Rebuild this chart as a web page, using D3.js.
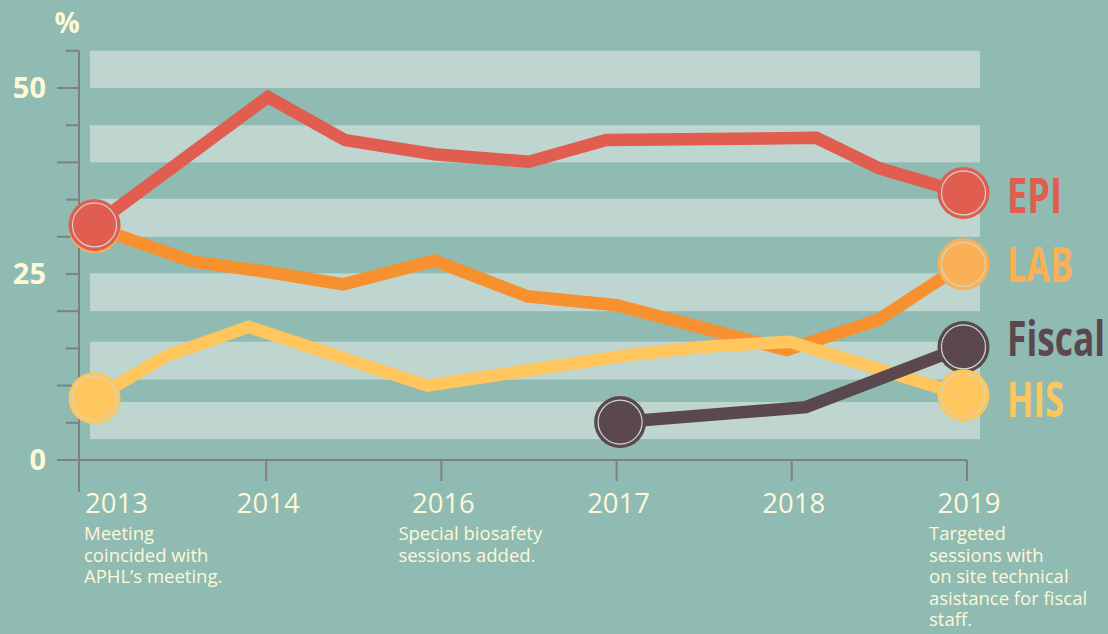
<html>
<head>
  <title>Participation by track</title>
  <script src="https://d3js.org/d3.v7.min.js"></script>
  <style>
    body { margin: 0; background: #8fbbb2; }
    text { font-family: "Open Sans", sans-serif; }
  </style>
</head>
<body>
  <svg id="plot" width="1108" height="634"></svg>
  <script>

  // years on the x axis (position index 0..5)
  const years = ["2013", "2014", "2016", "2017", "2018", "2019"];
  const notes = [
    ["Meeting", "coincided with", "APHL\u2019s meeting."],
    [],
    ["Special biosafety", "sessions added."],
    [],
    [],
    ["Targeted", "sessions with", "on site technical", "asistance for fiscal", "staff."]
  ];

  // series: x = year index (with in-between bends), v = percent
  const epiX = [0.02, 1.01, 1.45, 1.96, 2.5, 2.94, 4.14, 4.5, 4.98];
  const epiV = [31.6, 48.8, 43.0, 41.1, 40.1, 43.0, 43.3, 39.2, 35.9];
  const labX = [0.02, 0.58, 1.0, 1.44, 1.96, 2.49, 3.0, 3.97, 4.49, 4.98];
  const labV = [31.3, 26.7, 25.3, 23.6, 26.8, 22.0, 20.8, 14.8, 18.8, 26.3];
  const hisX = [0.02, 0.43, 0.9, 1.92, 3.07, 3.49, 3.99, 4.98];
  const hisV = [8.3, 14.0, 17.9, 10.0, 14.1, 15.2, 15.9, 8.7];
  const fisX = [3.02, 4.08, 4.98];
  const fisV = [5.1, 7.1, 15.2];

  // light horizontal bands, [from, to] in percent
  const bands = [[50, 55], [40, 45], [30, 35.1], [20, 25.1], [10.8, 15.9], [2.8, 7.8]];
  const yTicks = [0, 5, 10, 15, 20, 25, 30, 35, 40, 45, 50, 55];
  const yLabels = [0, 25, 50];

  const series = [
    { name: "LAB", x: labX, v: labV, line: "#f7912f", dot: "#fbb055", labelAt: 23.9, len: 66 },
    { name: "HIS", x: hisX, v: hisV, line: "#fec65c", dot: "#fec65c", labelAt: 5.8, len: 57 },
    { name: "Fiscal", x: fisX, v: fisV, line: "#5b474e", dot: "#5b474e", labelAt: 14.0, len: 98 },
    { name: "EPI", x: epiX, v: epiV, line: "#e05d50", dot: "#e05d50", labelAt: 33.2, len: 55 }
  ];

  const cream = "#fdf8d8";
  const axisGrey = "#808080";

  const plot = d3.select("#plot");
  const xScale = d3.scaleLinear().domain([0, 5]).range([91, 967]);
  const yScale = d3.scaleLinear().domain([0, 50]).range([460, 88]);
  const axisX = 79;

  // background bands
  plot.selectAll("rect.band").data(bands)
      .join("rect").attr("class", "band")
      .attr("x", 90).attr("width", 890)
      .attr("y", d => yScale(d[1]))
      .attr("height", d => yScale(d[0]) - yScale(d[1]))
      .attr("fill", "#bed6cf");

  // y axis
  plot.append("line")
      .attr("x1", axisX).attr("x2", axisX)
      .attr("y1", yScale(55)).attr("y2", 492)
      .attr("stroke", axisGrey).attr("stroke-width", 2);
  plot.selectAll("line.ytick").data(yTicks)
      .join("line").attr("class", "ytick")
      .attr("x1", d => d % 10 === 0 ? axisX - 22 : axisX - 13)
      .attr("x2", axisX)
      .attr("y1", d => yScale(d)).attr("y2", d => yScale(d))
      .attr("stroke", axisGrey).attr("stroke-width", 2);
  plot.selectAll("text.ylab").data(yLabels)
      .join("text").attr("class", "ylab")
      .attr("x", 46).attr("y", d => yScale(d))
      .attr("dy", "0.36em")
      .attr("text-anchor", "end")
      .attr("font-size", 29).attr("font-weight", 700)
      .attr("fill", cream)
      .text(d => d);
  plot.append("text")
      .attr("x", 67).attr("y", 33)
      .attr("text-anchor", "middle")
      .attr("font-size", 28).attr("font-weight", 700)
      .attr("fill", cream).text("%");

  // x axis
  plot.append("line")
      .attr("x1", axisX).attr("x2", xScale(5))
      .attr("y1", yScale(0)).attr("y2", yScale(0))
      .attr("stroke", axisGrey).attr("stroke-width", 2);
  plot.selectAll("line.xtick").data(d3.range(1, 6))
      .join("line").attr("class", "xtick")
      .attr("x1", d => xScale(d)).attr("x2", d => xScale(d))
      .attr("y1", yScale(0)).attr("y2", 481)
      .attr("stroke", axisGrey).attr("stroke-width", 2);

  plot.selectAll("text.year").data(years)
      .join("text").attr("class", "year")
      .attr("x", (d, i) => i === 0 ? axisX + 6 : xScale(i) + 2)
      .attr("y", 513)
      .attr("text-anchor", (d, i) => i === 0 ? "start" : "middle")
      .attr("font-size", 27.5)
      .attr("fill", cream)
      .text(d => d);

  const noteLeft = [axisX + 5, 0, xScale(2) - 43, 0, 0, xScale(5) - 38];
  notes.forEach((lines, i) => {
    plot.selectAll("text.note" + i).data(lines)
        .join("text").attr("class", "note" + i)
        .attr("x", noteLeft[i])
        .attr("y", (d, j) => 540 + j * 21.6)
        .attr("font-size", 18.5)
        .attr("fill", cream)
        .text(d => d);
  });

  // lines
  const line = d3.line().x(d => xScale(d[0])).y(d => yScale(d[1]));
  series.forEach(s => {
    const pts = s.x.map((x, i) => [x, s.v[i]]);
    plot.append("path")
        .attr("d", line(pts))
        .attr("fill", "none")
        .attr("stroke", s.line)
        .attr("stroke-width", 12.5)
        .attr("stroke-linejoin", "miter");
  });

  // end dots: Fiscal first so HIS sits over it, EPI last
  const dotOrder = ["LAB", "Fiscal", "HIS", "EPI"];
  dotOrder.forEach(name => {
    const s = series.find(d => d.name === name);
    const ends = [0, s.x.length - 1].map(i => [s.x[i], s.v[i]]);
    const g = plot.append("g");
    g.selectAll("circle.dot").data(ends)
     .join("circle").attr("class", "dot")
     .attr("cx", d => xScale(d[0])).attr("cy", d => yScale(d[1]))
     .attr("r", 26).attr("fill", s.dot);
    g.selectAll("circle.ring").data(ends)
     .join("circle").attr("class", "ring")
     .attr("cx", d => xScale(d[0])).attr("cy", d => yScale(d[1]))
     .attr("r", 22).attr("fill", "none")
     .attr("stroke", "#c9d9d1").attr("stroke-width", 1.2);
  });

  // series labels on the right
  plot.selectAll("text.slab").data(series)
      .join("text").attr("class", "slab")
      .attr("x", 1007).attr("y", d => yScale(d.labelAt))
      .attr("font-size", 48).attr("font-weight", 700)
      .attr("textLength", d => d.len)
      .attr("lengthAdjust", "spacingAndGlyphs")
      .attr("fill", d => d.dot)
      .text(d => d.name);

  </script>
</body>
</html>
